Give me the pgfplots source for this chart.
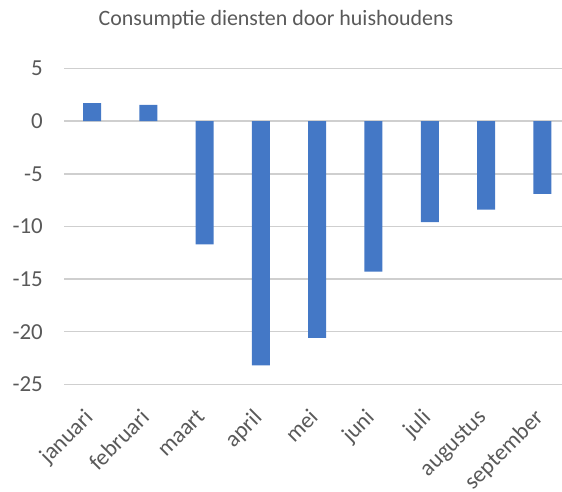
\documentclass[border=0pt]{standalone}
\usepackage{fontspec}
\setmainfont{Carlito}
\usepackage{pgfplots}
\pgfplotsset{compat=1.18}
\definecolor{barblue}{HTML}{4478C6}
\definecolor{txtgray}{HTML}{595959}
\definecolor{gridgray}{HTML}{CFCFCF}
\begin{document}
\begin{tikzpicture}
\useasboundingbox (-64bp,-107.7bp) rectangle (498bp,384.3bp);
\begin{axis}[
    at={(0,0)}, anchor=south west,
    scale only axis,
    width=498bp, height=315.8bp,
    xmin=-0.5, xmax=8.35,
    ymin=-25, ymax=5,
    ytick={-25,-20,...,5},
    xtick={0,...,8},
    xticklabels={januari,februari,maart,april,mei,juni,juli,augustus,september},
    ymajorgrids,
    grid style={gridgray, line width=1.6bp},
    axis line style={draw=none},
    major tick length=0pt,
    /pgf/number format/assume math mode=true,
    tick label style={text=txtgray, font=\fontsize{23}{25}\selectfont},
    yticklabel style={inner sep=0pt, xshift=-21bp},
    xticklabel style={rotate=45, anchor=north east, inner sep=0pt, xshift=-23bp, yshift=-10bp},
    title={Consumptie diensten door huishoudens},
    title style={at={(axis description cs:0.4257,1)}, anchor=base, yshift=36.8bp,
        text=txtgray, font=\fontsize{22}{24}\selectfont},
    ybar, bar width=18bp,
]
\addplot[fill=barblue, draw=none] coordinates {
    (0,1.7) (1,1.55) (2,-11.7) (3,-23.2) (4,-20.6)
    (5,-14.3) (6,-9.6) (7,-8.4) (8,-6.9)
};
\end{axis}
\end{tikzpicture}
\end{document}
